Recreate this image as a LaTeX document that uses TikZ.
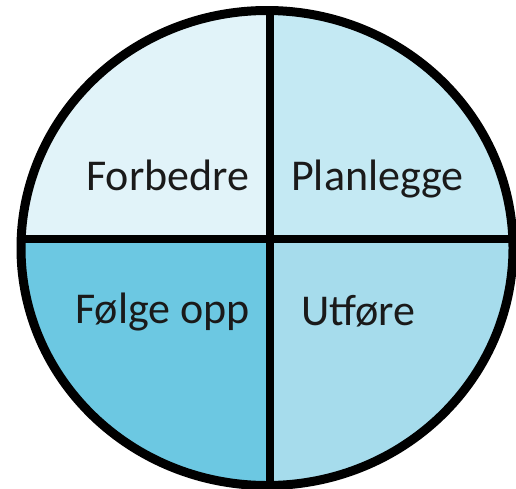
\documentclass[tikz,border=0pt]{standalone}
\usepackage{fontspec}
\setmainfont{Carlito}
\definecolor{qtl}{HTML}{E1F3F9}
\definecolor{qtr}{HTML}{C4E9F3}
\definecolor{qbl}{HTML}{6CC8E2}
\definecolor{qbr}{HTML}{A6DCEC}
\definecolor{ink}{HTML}{1A1A1A}
\tikzset{
  phase/.style={anchor=base west, inner sep=0pt, font=\fontsize{44}{52}\selectfont, text=ink},
  divider/.style={line width=8pt, draw=black},
  rim/.style={line width=9pt, draw=black}
}
\begin{document}
\begin{tikzpicture}[x=1pt,y=-1pt]
  \useasboundingbox (0,0) rectangle (516,488);
  \fill[white] (0,0) rectangle (516,488);
  % quadrants of the cycle wheel
  \begin{scope}
    \clip (267,248) ellipse [x radius=246, y radius=237.5];
    \fill[qtl] (0,0) rectangle (270,239);
    \fill[qtr] (270,0) rectangle (540,239);
    \fill[qbl] (0,239) rectangle (270,500);
    \fill[qbr] (270,239) rectangle (540,500);
    \draw[divider] (270,0) -- (270,500);
    \draw[divider] (0,239) -- (540,239);
  \end{scope}
  \draw[rim] (267,248) ellipse [x radius=246, y radius=237.5];
  % phase labels
  \node[phase] (forbedre) at (86,190) {Forbedre};
  \node[phase] (planlegge) at (291,190) {Planlegge};
  \node[phase] (folge) at (75,323) {Følge opp};
  \node[phase] (utfore) at (301,325) {Utføre};
\end{tikzpicture}
\end{document}
